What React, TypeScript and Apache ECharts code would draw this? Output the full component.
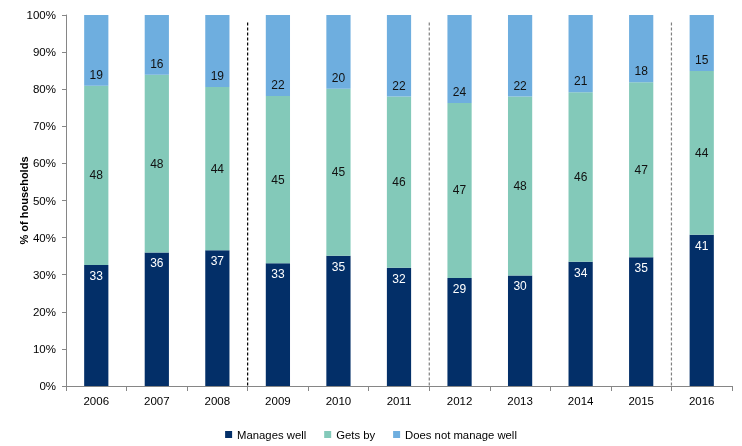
import React, { useEffect, useRef } from "react";
import * as echarts from "echarts";

const years = ["2006", "2007", "2008", "2009", "2010", "2011", "2012", "2013", "2014", "2015", "2016"];
const managesWell = [32.6, 36.0, 36.6, 33.1, 35.1, 31.9, 29.1, 29.8, 33.5, 34.7, 40.8];
const getsBy = [48.3, 47.9, 44.0, 45.1, 45.0, 46.1, 47.2, 48.2, 45.7, 47.2, 44.1];
const notManageWell = years.map((_, i) => +(100 - managesWell[i] - getsBy[i]).toFixed(1));
const seriesNames = ["Manages well", "Gets by", "Does not manage well"];
const seriesColors = ["#032F68", "#83C9B9", "#6EAEDF"];
const yTicks = { min: 0, max: 100, interval: 10 };
const dividerPositions = [3, 6, 10];
const dividerColors = ["#000000", "#808080", "#808080"];
const dividerTop = 98;

const FONT = "'Liberation Sans', Arial, sans-serif";

export default function App() {
  const ref = useRef<HTMLDivElement>(null);
  useEffect(() => {
    if (!ref.current) return;
    const chart = echarts.init(ref.current, null, { renderer: "svg" });
    const round = (p: any) => String(Math.round(p.value));
    chart.setOption({
      animation: false,
      textStyle: { fontFamily: FONT },
      grid: { left: 66, right: 10, top: 15, bottom: 60, containLabel: false },
      legend: {
        data: seriesNames,
        left: "center",
        top: 424,
        itemWidth: 7,
        itemHeight: 7,
        itemGap: 18,
        icon: "rect",
        textStyle: { fontSize: 11.3, color: "#000", fontFamily: FONT },
      },
      xAxis: [
        {
          type: "category",
          data: years,
          axisLine: { lineStyle: { color: "#868686" } },
          axisTick: { show: true, length: 5, lineStyle: { color: "#868686" } },
          axisLabel: { fontSize: 11.5, color: "#000", margin: 9, fontFamily: FONT },
        },
        { type: "value", min: 0, max: 11, show: false },
      ],
      yAxis: {
        type: "value",
        min: yTicks.min,
        max: yTicks.max,
        interval: yTicks.interval,
        name: "% of households",
        nameLocation: "middle",
        nameGap: 37,
        nameMoveOverlap: false,
        nameTextStyle: { fontSize: 11, fontWeight: "bold", color: "#000", fontFamily: FONT },
        axisLine: { show: true, lineStyle: { color: "#868686" } },
        axisTick: { show: true, length: 4, lineStyle: { color: "#868686" } },
        splitLine: { show: false },
        axisLabel: { fontSize: 11.5, color: "#000", margin: 10, formatter: "{value}%", fontFamily: FONT },
      },
      series: [
        {
          name: seriesNames[0],
          type: "bar",
          stack: "total",
          barWidth: "40%",
          data: managesWell,
          itemStyle: { color: seriesColors[0] },
          label: { show: true, position: "insideTop", distance: 5, color: "#fff", fontSize: 12, formatter: round, fontFamily: FONT },
        },
        {
          name: seriesNames[1],
          type: "bar",
          stack: "total",
          barWidth: "40%",
          data: getsBy,
          itemStyle: { color: seriesColors[1] },
          label: { show: true, position: "inside", color: "#111", fontSize: 12, formatter: round, fontFamily: FONT },
        },
        {
          name: seriesNames[2],
          type: "bar",
          stack: "total",
          barWidth: "40%",
          data: notManageWell,
          itemStyle: { color: seriesColors[2] },
          label: { show: true, position: "insideBottom", distance: 5, color: "#111", fontSize: 12, formatter: round, fontFamily: FONT },
        },
        {
          name: "dividers",
          type: "custom",
          xAxisIndex: 1,
          yAxisIndex: 0,
          silent: true,
          data: dividerPositions.map((p) => [p, 0]),
          renderItem: (params: any, api: any) => {
            const x = api.value(0);
            const top = api.coord([x, dividerTop]);
            const bottom = api.coord([x, 0]);
            return {
              type: "line",
              shape: { x1: top[0], y1: top[1], x2: bottom[0], y2: bottom[1] },
              style: { stroke: dividerColors[params.dataIndex], lineWidth: 1.2, lineDash: [3, 2] },
            };
          },
        },
      ],
    });
    return () => chart.dispose();
  }, []);
  return <div ref={ref} style={{ position: "fixed", left: 0, top: 0, width: 742, height: 446 }} />;
}
